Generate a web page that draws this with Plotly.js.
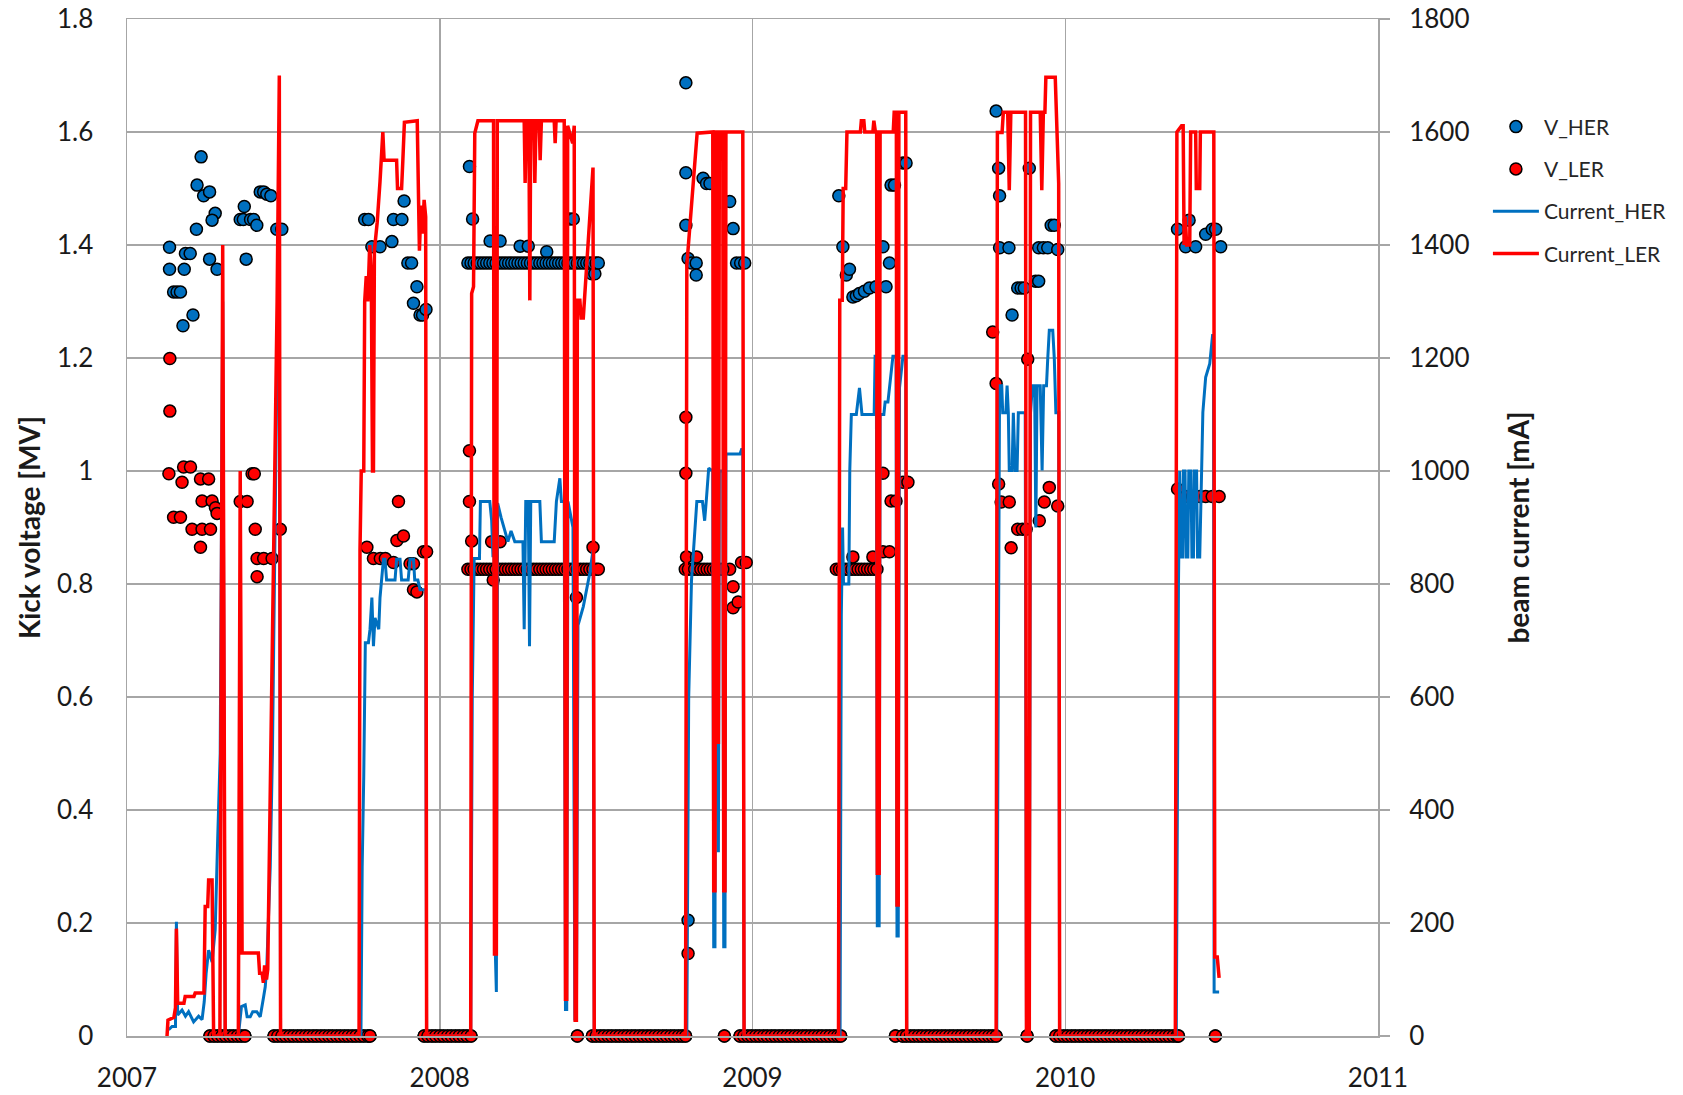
<!DOCTYPE html>
<html>
<head>
<meta charset="utf-8">
<script src="https://cdn.plot.ly/plotly-3.0.1.min.js"></script>
<style>
html,body{margin:0;padding:0;background:#fff;}
#chart{width:1683px;height:1095px;}
</style>
</head>
<body>
<div id="chart"></div>
<script>
// ---------- axis ticks ----------
const yearTicks = [2007, 2008, 2009, 2010, 2011];

// ---------- V_HER : kick voltage of HER kicker (decimal year, MV) ----------
const vHerYear = [
  2007.136,2007.136,2007.183,2007.149,2007.160,2007.171,2007.187,2007.202,2007.179,2007.211,2007.222,2007.237,2007.224,2007.245,2007.264,2007.282,2007.272,2007.264,2007.288,2007.375,2007.381,2007.362,2007.372,2007.395,2007.405,2007.415,2007.426,2007.437,2007.447,2007.460,2007.479,2007.495,
  2007.760,2007.772,2007.783,2007.809,2007.847,2007.852,2007.879,2007.886,2007.898,2007.910,2007.916,2007.927,2007.937,2007.945,2007.956,
  2008.095,2008.105,2008.161,2008.193,2008.257,2008.283,2008.342,2008.416,2008.427,2008.486,2008.496,
  2008.090,2008.100,2008.110,2008.120,2008.130,2008.140,2008.150,2008.160,2008.170,2008.180,
  2008.190,2008.200,2008.210,2008.220,2008.230,2008.240,2008.250,2008.260,2008.270,2008.280,
  2008.290,2008.300,2008.310,2008.320,2008.330,2008.340,2008.350,2008.360,2008.370,2008.380,
  2008.390,2008.400,2008.410,2008.420,2008.430,2008.440,2008.450,2008.460,2008.470,2008.480,
  2008.490,2008.500,2008.507,
  2008.787,2008.787,2008.787,2008.794,2008.805,2008.820,2008.820,2008.842,2008.853,2008.864,2008.927,2008.938,2008.949,2008.962,2008.975,2008.794,
  2009.276,2009.289,2009.300,2009.310,2009.321,2009.332,2009.342,2009.358,2009.374,2009.395,2009.427,2009.417,2009.438,2009.443,2009.454,2009.481,2009.491,
  2009.779,2009.787,2009.790,2009.790,2009.820,2009.830,2009.848,2009.859,2009.869,2009.885,2009.905,2009.915,2009.915,2009.930,2009.944,2009.955,2009.965,2009.976,
  2010.359,2010.385,2010.396,2010.417,2010.449,2010.470,2010.481,2010.497
];
const vHerKick = [
  1.396,1.357,1.357,1.317,1.317,1.317,1.385,1.385,1.257,1.276,1.428,1.556,1.506,1.487,1.494,1.456,1.444,1.375,1.357,1.468,1.375,1.445,1.445,1.445,1.445,1.435,1.494,1.494,1.490,1.487,1.428,1.428,
  1.445,1.445,1.397,1.397,1.406,1.445,1.445,1.478,1.368,1.368,1.297,1.326,1.276,1.276,1.286,
  1.539,1.446,1.407,1.407,1.398,1.398,1.388,1.446,1.446,1.349,1.349,
  1.368,1.368,1.368,1.368,1.368,1.368,1.368,1.368,1.368,1.368,
  1.368,1.368,1.368,1.368,1.368,1.368,1.368,1.368,1.368,1.368,
  1.368,1.368,1.368,1.368,1.368,1.368,1.368,1.368,1.368,1.368,
  1.368,1.368,1.368,1.368,1.368,1.368,1.368,1.368,1.368,1.368,
  1.368,1.368,1.368,
  1.687,1.528,1.435,1.376,1.368,1.368,1.347,1.518,1.509,1.509,1.477,1.429,1.368,1.368,1.368,0.205,
  1.487,1.397,1.347,1.357,1.308,1.310,1.314,1.318,1.324,1.326,1.326,1.397,1.368,1.506,1.506,1.545,1.545,
  1.637,1.536,1.487,1.395,1.395,1.276,1.324,1.324,1.324,1.536,1.336,1.336,1.395,1.395,1.395,1.435,1.435,1.392,
  1.428,1.397,1.444,1.397,1.419,1.428,1.428,1.397
];

// ---------- V_LER : kick voltage of LER kicker (decimal year, MV) ----------
const vLerYear = [
  2007.137,2007.137,2007.134,2007.181,2007.203,2007.176,2007.149,2007.171,2007.208,2007.240,2007.235,2007.235,2007.261,2007.240,2007.272,2007.267,2007.283,2007.288,2007.362,2007.384,2007.400,2007.407,2007.410,2007.416,2007.437,2007.464,2007.416,2007.490,
  2007.767,2007.788,2007.810,2007.826,2007.852,2007.863,2007.868,2007.884,2007.905,2007.916,2007.916,2007.927,2007.948,2007.958,
  2008.095,2008.095,2008.102,2008.166,2008.193,2008.171,2008.437,2008.490,
  2008.090,2008.100,2008.110,2008.120,2008.130,2008.140,2008.150,2008.160,2008.170,2008.180,
  2008.190,2008.200,2008.210,2008.220,2008.230,2008.240,2008.250,2008.260,2008.270,2008.280,
  2008.290,2008.300,2008.310,2008.320,2008.330,2008.340,2008.350,2008.360,2008.370,2008.380,
  2008.390,2008.400,2008.410,2008.420,2008.430,2008.440,2008.450,2008.460,2008.470,2008.480,
  2008.490,2008.500,2008.507,
  2008.787,2008.787,2008.789,2008.821,2008.927,2008.938,2008.938,2008.954,2008.965,2008.980,2008.794,
  2008.785,2008.795,2008.805,2008.815,2008.825,2008.835,2008.845,2008.855,2008.865,2008.875,2008.885,2008.895,2008.905,
  2009.268,2009.278,2009.288,2009.298,2009.308,2009.318,2009.328,2009.338,2009.348,2009.358,2009.368,2009.378,2009.388,2009.398,
  2009.321,2009.385,2009.417,2009.438,2009.417,2009.443,2009.459,2009.481,2009.497,
  2009.768,2009.779,2009.787,2009.795,2009.821,2009.827,2009.848,2009.863,2009.875,2009.880,2009.917,2009.933,2009.949,2009.976,
  2010.359,2010.385,2010.407,2010.430,2010.449,2010.470,2010.492
];
const vLerKick = [
  1.199,1.106,0.995,1.007,1.007,0.980,0.918,0.918,0.897,0.897,0.865,0.986,0.986,0.947,0.947,0.897,0.935,0.925,0.946,0.946,0.995,0.995,0.897,0.845,0.845,0.845,0.813,0.897,
  0.865,0.845,0.845,0.845,0.838,0.877,0.946,0.885,0.836,0.836,0.790,0.786,0.857,0.857,
  1.036,0.946,0.876,0.875,0.875,0.807,0.776,0.865,
  0.826,0.826,0.826,0.826,0.826,0.826,0.826,0.826,0.826,0.826,
  0.826,0.826,0.826,0.826,0.826,0.826,0.826,0.826,0.826,0.826,
  0.826,0.826,0.826,0.826,0.826,0.826,0.826,0.826,0.826,0.826,
  0.826,0.826,0.826,0.826,0.826,0.826,0.826,0.826,0.826,0.826,
  0.826,0.826,0.826,
  1.095,0.996,0.848,0.848,0.826,0.795,0.758,0.768,0.838,0.838,0.146,
  0.826,0.826,0.826,0.826,0.826,0.826,0.826,0.826,0.826,0.826,0.826,0.826,0.826,
  0.826,0.826,0.826,0.826,0.826,0.826,0.826,0.826,0.826,0.826,0.826,0.826,0.826,0.826,
  0.848,0.848,0.857,0.857,0.996,0.947,0.947,0.980,0.980,
  1.246,1.155,0.977,0.945,0.945,0.864,0.897,0.897,0.897,1.198,0.912,0.945,0.971,0.938,
  0.968,0.955,0.955,0.955,0.955,0.955,0.955
];

// ---------- days with kickers off (both V = 0) ----------
const offYears = [
  2007.265,2007.278,2007.290,2007.303,2007.315,2007.328,2007.340,2007.353,2007.365,2007.377,
  2007.470,2007.482,2007.495,2007.507,2007.520,2007.532,2007.545,2007.557,2007.570,2007.582,2007.595,2007.607,2007.620,
  2007.632,2007.645,2007.657,2007.670,2007.682,2007.695,2007.707,2007.720,2007.732,2007.745,2007.757,2007.770,2007.777,
  2007.950,2007.962,2007.975,2007.987,2008.000,2008.012,2008.025,2008.037,2008.050,2008.062,2008.075,2008.087,2008.100,
  2008.440,
  2008.488,2008.500,2008.513,2008.525,2008.538,2008.550,2008.563,2008.575,2008.588,2008.600,2008.613,2008.625,2008.638,
  2008.650,2008.663,2008.675,2008.688,2008.700,2008.713,2008.725,2008.738,2008.750,2008.763,2008.775,2008.786,
  2008.910,
  2008.960,2008.972,2008.985,2008.997,2009.010,2009.022,2009.035,2009.047,2009.060,2009.072,2009.085,2009.097,2009.110,
  2009.122,2009.135,2009.147,2009.160,2009.172,2009.185,2009.197,2009.210,2009.222,2009.235,2009.247,2009.260,2009.272,2009.282,
  2009.457,
  2009.480,2009.492,2009.505,2009.517,2009.530,2009.542,2009.555,2009.567,2009.580,2009.592,2009.605,2009.617,2009.630,
  2009.642,2009.655,2009.667,2009.680,2009.692,2009.705,2009.717,2009.730,2009.742,2009.755,2009.767,2009.779,
  2009.878,
  2009.970,2009.982,2009.995,2010.007,2010.020,2010.032,2010.045,2010.057,2010.070,2010.082,2010.095,2010.107,2010.120,
  2010.132,2010.145,2010.157,2010.170,2010.182,2010.195,2010.207,2010.220,2010.232,2010.245,2010.257,2010.270,2010.282,
  2010.295,2010.307,2010.320,2010.332,2010.345,2010.357,2010.362,
  2010.480
];
const offKick = [
  0,0,0,0,0,0,0,0,0,0,
  0,0,0,0,0,0,0,0,0,0,0,0,0,
  0,0,0,0,0,0,0,0,0,0,0,0,0,
  0,0,0,0,0,0,0,0,0,0,0,0,0,
  0,
  0,0,0,0,0,0,0,0,0,0,0,0,0,
  0,0,0,0,0,0,0,0,0,0,0,0,0,
  0,
  0,0,0,0,0,0,0,0,0,0,0,0,0,
  0,0,0,0,0,0,0,0,0,0,0,0,0,0,
  0,
  0,0,0,0,0,0,0,0,0,0,0,0,0,
  0,0,0,0,0,0,0,0,0,0,0,0,0,
  0,
  0,0,0,0,0,0,0,0,0,0,0,0,0,
  0,0,0,0,0,0,0,0,0,0,0,0,0,
  0,0,0,0,0,0,0,
  0
];

// ---------- Current_HER (decimal year, mA) ----------
const curHerYear = [
  2007.133,2007.144,2007.155,2007.158,2007.162,2007.176,2007.187,2007.197,2007.213,2007.229,2007.240,2007.247,2007.253,2007.261,2007.272,2007.282,2007.290,2007.298,2007.306,2007.314,
  2007.356,2007.366,2007.378,2007.384,2007.394,2007.402,2007.415,2007.426,2007.437,2007.442,2007.447,2007.452,2007.458,2007.465,2007.470,2007.476,2007.482,2007.487,2007.491,
  2007.748,2007.752,2007.757,2007.762,2007.772,2007.777,2007.783,2007.788,2007.793,2007.805,2007.809,2007.820,2007.825,2007.830,2007.857,2007.862,2007.873,2007.878,2007.899,2007.905,2007.916,2007.920,2007.930,2007.937,2007.955,2007.958,
  2008.099,2008.104,2008.110,2008.127,2008.130,2008.160,2008.166,2008.170,2008.174,2008.177,2008.181,2008.185,2008.196,2008.207,2008.218,2008.228,2008.240,2008.266,2008.270,2008.275,2008.283,2008.287,2008.291,2008.320,2008.325,2008.366,2008.373,2008.384,2008.389,2008.398,2008.402,2008.406,2008.410,2008.426,2008.432,2008.437,2008.442,2008.459,2008.480,2008.490,2008.494,
  2008.790,2008.796,2008.805,2008.815,2008.822,2008.840,2008.847,2008.852,2008.860,2008.873,2008.876,2008.880,2008.883,2008.888,2008.891,2008.894,2008.905,2008.908,2008.912,2008.915,2008.960,2008.965,2008.969,2008.973,
  2009.280,2009.284,2009.288,2009.291,2009.308,2009.311,2009.316,2009.332,2009.342,2009.350,2009.389,2009.392,2009.396,2009.399,2009.405,2009.408,2009.420,2009.424,2009.433,2009.438,2009.449,2009.459,2009.462,2009.466,2009.470,2009.481,2009.490,2009.493,
  2009.781,2009.790,2009.797,2009.800,2009.810,2009.814,2009.818,2009.821,2009.830,2009.834,2009.840,2009.846,2009.850,2009.872,2009.876,2009.885,2009.889,2009.895,2009.902,2009.906,2009.910,2009.920,2009.926,2009.931,2009.940,2009.944,2009.949,2009.960,2009.965,2009.970,2009.979,2009.982,
  2010.355,2010.362,2010.366,2010.370,2010.375,2010.378,2010.383,2010.386,2010.392,2010.395,2010.402,2010.405,2010.410,2010.413,2010.420,2010.423,2010.430,2010.436,2010.440,2010.449,2010.462,2010.471,2010.474,2010.476,2010.492
];
const curHerMa = [
  11,17,17,202,37,46,35,43,25,35,29,61,111,152,131,188,350,500,1300,0,
  0,52,55,34,34,43,43,34,70,87,123,200,300,500,720,1030,1300,1310,0,
  0,300,460,696,696,720,776,690,740,720,776,844,844,807,807,844,844,807,807,844,844,807,807,790,790,0,
  0,600,845,845,946,946,912,850,850,163,78,943,918,894,875,894,875,875,720,946,946,690,946,946,875,875,946,987,946,946,47,47,946,900,30,30,727,760,820,860,0,
  0,600,807,894,946,946,912,946,1005,1000,158,158,1000,1000,325,1000,1000,158,158,1030,1030,1038,1038,0,
  0,745,900,800,800,1000,1100,1100,1147,1100,1100,1203,1203,195,195,1100,1100,1122,1122,1147,1203,1203,177,177,1147,1203,1203,0,
  0,1151,1151,1103,1103,1151,1103,1001,1001,1103,1001,1001,1103,1103,0,0,1103,1151,1151,900,1151,1151,1001,1151,1151,1199,1249,1249,1199,1103,1103,0,
  0,800,1000,848,848,1000,1000,848,848,1000,1000,848,848,1000,1000,848,848,1000,1104,1166,1190,1240,1240,78,78
];

// ---------- Current_LER (decimal year, mA) ----------
const curLerYear = [
  2007.128,2007.131,2007.150,2007.155,2007.158,2007.162,2007.182,2007.186,2007.214,2007.218,2007.246,2007.250,2007.258,2007.261,2007.272,2007.277,2007.297,2007.306,2007.314,
  2007.356,2007.362,2007.368,2007.420,2007.424,2007.432,2007.436,2007.440,2007.446,2007.450,2007.458,2007.470,2007.480,2007.487,2007.491,
  2007.742,2007.745,2007.749,2007.757,2007.760,2007.765,2007.770,2007.776,2007.781,2007.785,2007.788,2007.791,2007.800,2007.809,2007.818,2007.822,2007.862,2007.865,2007.878,2007.882,2007.887,2007.928,2007.935,2007.940,2007.945,2007.950,2007.955,2007.958,
  2008.099,2008.102,2008.108,2008.112,2008.122,2008.172,2008.175,2008.181,2008.184,2008.270,2008.273,2008.277,2008.285,2008.288,2008.291,2008.301,2008.304,2008.308,2008.318,2008.321,2008.325,2008.366,2008.369,2008.372,2008.398,2008.402,2008.406,2008.409,2008.425,2008.430,2008.433,2008.437,2008.440,2008.448,2008.452,2008.459,2008.490,2008.494,
  2008.786,2008.790,2008.804,2008.815,2008.823,2008.873,2008.876,2008.880,2008.883,2008.888,2008.891,2008.894,2008.905,2008.908,2008.912,2008.915,2008.969,2008.973,
  2009.275,2009.279,2009.287,2009.290,2009.298,2009.302,2009.345,2009.348,2009.356,2009.359,2009.385,2009.388,2009.393,2009.397,2009.399,2009.405,2009.408,2009.450,2009.453,2009.460,2009.462,2009.466,2009.468,2009.490,2009.493,
  2009.779,2009.783,2009.798,2009.802,2009.816,2009.821,2009.826,2009.873,2009.876,2009.885,2009.889,2009.920,2009.925,2009.930,2009.935,2009.938,2009.968,2009.979,2009.982,
  2010.352,2010.357,2010.372,2010.377,2010.380,2010.384,2010.388,2010.398,2010.401,2010.417,2010.419,2010.430,2010.432,2010.475,2010.478,2010.486,2010.492
];
const curLerMa = [
  0,28,33,50,190,58,58,70,70,76,76,229,229,276,276,0,0,1400,0,
  0,1000,147,147,111,111,94,125,100,118,400,900,1300,1700,0,
  0,860,1000,1000,1300,1345,1300,1400,1350,1000,1000,1390,1440,1512,1600,1550,1550,1500,1500,1550,1617,1620,1390,1470,1420,1480,1450,0,
  0,1314,1326,1598,1620,1620,145,145,1620,1620,1510,1620,1620,1302,1620,1620,1510,1620,1620,1550,1620,1620,1580,1620,1620,65,65,1611,1580,1611,28,28,1302,1302,1271,1271,1537,0,
  0,1364,1460,1549,1598,1600,257,257,1600,1600,517,1600,1600,257,257,1600,1600,0,
  0,1302,1302,1500,1500,1600,1600,1620,1620,1600,1600,1620,1600,1600,288,288,1600,1600,1635,1635,232,232,1635,1635,0,
  0,1599,1599,1635,1635,1497,1635,1635,0,0,1635,1635,1497,1635,1635,1697,1697,1509,0,
  0,1600,1611,1611,1400,1450,1400,1400,1600,1600,1500,1500,1600,1600,140,140,103
];

// ---------- styling ----------
const FONT = 'Lato, "Open Sans", "Liberation Sans", sans-serif';
const TXT = '#1a1a1a';
const GRID = '#a6a6a6';
const BLUE = '#0070C0';
const RED = '#FF0000';

const traces = [
  {
    name: 'V_HER', type: 'scatter', mode: 'markers', legendgroup: 'g1',
    x: vHerYear.concat(offYears), y: vHerKick.concat(offKick),
    xaxis: 'x', yaxis: 'y', cliponaxis: false,
    marker: {color: BLUE, size: 12, line: {color: '#000000', width: 1.5}}
  },
  {
    name: 'V_LER', type: 'scatter', mode: 'markers', legendgroup: 'g2',
    x: vLerYear.concat(offYears), y: vLerKick.concat(offKick),
    xaxis: 'x', yaxis: 'y', cliponaxis: false,
    marker: {color: RED, size: 12, line: {color: '#000000', width: 1.5}}
  },
  {
    name: 'Current_HER', type: 'scatter', mode: 'lines', legendgroup: 'g3',
    x: curHerYear, y: curHerMa, xaxis: 'x', yaxis: 'y2', cliponaxis: false,
    line: {color: BLUE, width: 3}
  },
  {
    name: 'Current_LER', type: 'scatter', mode: 'lines', legendgroup: 'g4',
    x: curLerYear, y: curLerMa, xaxis: 'x', yaxis: 'y2', cliponaxis: false,
    line: {color: RED, width: 3.5}
  }
];

const layout = {
  width: 1683, height: 1095,
  margin: {l: 127, r: 304, t: 19, b: 59, pad: 0},
  paper_bgcolor: '#ffffff', plot_bgcolor: '#ffffff',
  font: {family: FONT, color: TXT},
  showlegend: true,
  legend: {
    x: 1.087, xanchor: 'left', y: 0.914, yanchor: 'top',
    font: {family: FONT, size: 21, color: '#262626'},
    traceorder: 'grouped', tracegroupgap: 12, itemwidth: 46,
    bgcolor: 'rgba(0,0,0,0)', borderwidth: 0
  },
  xaxis: {
    range: [2007, 2011], tickvals: yearTicks, ticktext: yearTicks.map(String),
    showgrid: true, gridcolor: GRID, gridwidth: 1.5,
    showline: true, mirror: true, linecolor: GRID, linewidth: 1.5,
    ticks: '', zeroline: false, ticklabelstandoff: 18,
    tickfont: {family: FONT, size: 26, color: TXT}
  },
  yaxis: {
    range: [0, 1.8], dtick: 0.2, tick0: 0,
    showgrid: true, gridcolor: GRID, gridwidth: 1.5,
    showline: true, mirror: true, linecolor: GRID, linewidth: 1.5,
    ticks: '', zeroline: false, ticklabelstandoff: 27,
    tickfont: {family: FONT, size: 26, color: TXT},
    title: {text: 'Kick voltage [MV]', standoff: 8,
            font: {family: FONT, size: 28, color: TXT, weight: 'bold'}}
  },
  yaxis2: {
    range: [0, 1800], dtick: 200, tick0: 0,
    overlaying: 'y', side: 'right', anchor: 'x',
    showgrid: false, zeroline: false, showline: false,
    ticks: 'outside', ticklen: 11, tickwidth: 1.5, tickcolor: GRID,
    ticklabelstandoff: 14,
    tickfont: {family: FONT, size: 26, color: TXT},
    title: {text: 'beam current [mA]', standoff: 40,
            font: {family: FONT, size: 28, color: TXT, weight: 'bold'}}
  }
};

Plotly.newPlot('chart', traces, layout, {staticPlot: true, displayModeBar: false});
</script>
</body>
</html>
